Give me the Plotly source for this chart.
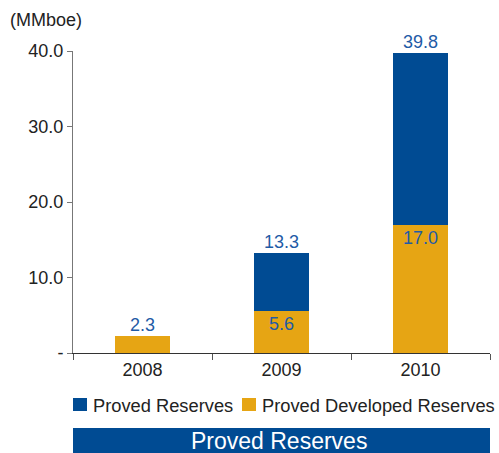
import plotly.graph_objects as go

years = ["2008", "2009", "2010"]
developed = [2.3, 5.6, 17.0]
total = [2.3, 13.3, 39.8]
undeveloped = [round(t - d, 1) for t, d in zip(total, developed)]
dev_labels = ["", "5.6", "17.0"]
total_labels = ["2.3", "13.3", "39.8"]

ytick_vals = [0, 10, 20, 30, 40]
ytick_text = ["-", "10.0", "20.0", "30.0", "40.0"]

BLUE = "#004B93"
ORANGE = "#E6A514"
LABEL = "#1F5BA6"
FONT = "Liberation Sans, Arial, sans-serif"

W, H = 499, 453
L, R, T, B = 73, 9, 51, 100
PW, PH = W - L - R, H - T - B


# pixel -> paper helpers (for the hand drawn legend and the banner)
def px(x):
    return (x - L) / PW


def py(y):
    return (H - B - y) / PH


fig = go.Figure()

fig.add_trace(go.Bar(x=years, y=developed, name="Proved Developed Reserves",
                     marker=dict(color=ORANGE, line=dict(width=0)),
                     text=dev_labels, textposition="inside", insidetextanchor="end",
                     textfont=dict(color=LABEL, size=18), width=0.4,
                     showlegend=False, hoverinfo="y"))

fig.add_trace(go.Bar(x=years, y=undeveloped, name="Proved Reserves",
                     marker=dict(color=BLUE, line=dict(width=0)),
                     width=0.4, showlegend=False, hoverinfo="y"))

# totals above the stacks
fig.add_trace(go.Scatter(x=years, y=total, mode="text", text=total_labels,
                         textposition="top center",
                         textfont=dict(color=LABEL, size=18),
                         showlegend=False, cliponaxis=False, hoverinfo="skip"))

fig.update_layout(
    width=W, height=H,
    barmode="stack",
    plot_bgcolor="white", paper_bgcolor="white",
    margin=dict(l=L, r=R, t=T, b=B, autoexpand=False),
    font=dict(family=FONT, size=18, color="#222"),
    title=dict(text="(MMboe)", xref="container", yref="container",
               x=10/W, xanchor="left", y=1 - 20/H, yanchor="middle",
               font=dict(size=18, color="#222")),
    showlegend=False,
)

fig.update_xaxes(type="category", showline=True, linecolor="#333", linewidth=1,
                 ticks="outside", tickson="boundaries", ticklen=6, tickcolor="#555",
                 showgrid=False, zeroline=False)
fig.update_yaxes(range=[0, 40], tickvals=ytick_vals, ticktext=ytick_text,
                 showline=True, linecolor="#777", linewidth=1,
                 ticks="outside", ticklen=5, tickcolor="#777",
                 showgrid=False, zeroline=False)

# legend
for x0, color, label in [(73, BLUE, "Proved Reserves"),
                         (242, ORANGE, "Proved Developed Reserves")]:
    fig.add_shape(type="rect", xref="paper", yref="paper",
                  x0=px(x0), x1=px(x0 + 14), y0=py(411), y1=py(398),
                  fillcolor=color, line=dict(width=0))
    fig.add_annotation(text=label, xref="paper", yref="paper",
                       x=px(x0 + 18), y=py(405), xanchor="left", yanchor="middle",
                       showarrow=False, font=dict(size=18.3, color="#222"))

# blue banner at the bottom
fig.add_shape(type="rect", xref="paper", yref="paper",
              x0=0, x1=1, y0=py(460), y1=py(428),
              fillcolor=BLUE, line=dict(width=0))
fig.add_annotation(text="Proved Reserves", xref="paper", yref="paper",
                   x=px(279), y=py(441), xanchor="center", yanchor="middle",
                   showarrow=False,
                   font=dict(size=23, color="white", family=FONT))

# drop the default page margin so the figure sits at the window's corner
fig.write_html("out.html", config={"displayModeBar": False},
               post_script="document.body.style.margin='0';document.body.style.overflow='hidden';")
